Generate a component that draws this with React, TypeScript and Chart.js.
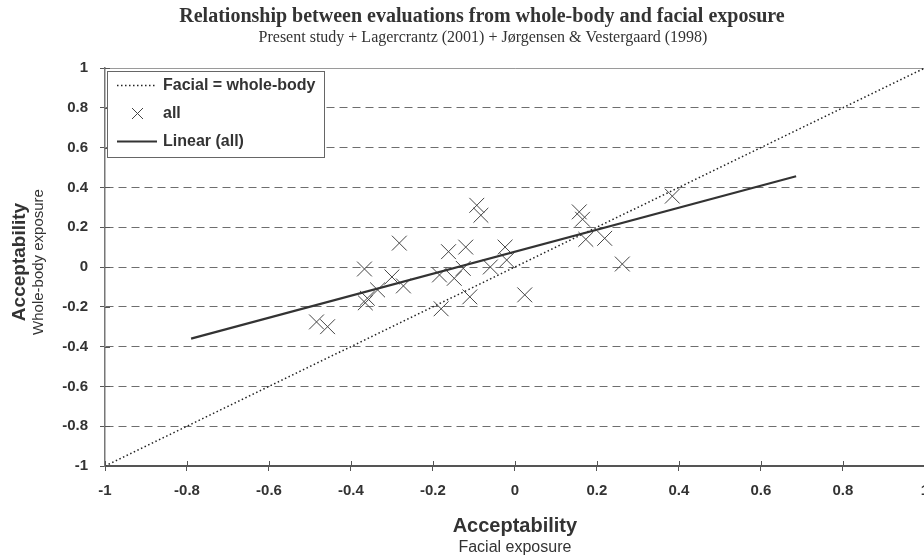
import React, { useEffect, useRef } from "react";
import { Chart, registerables } from "chart.js";

Chart.register(...registerables);

// Acceptability votes: facial exposure (x) vs whole-body exposure (y)
const facialX = [
  -0.484, -0.457, -0.367, -0.365, -0.36, -0.335, -0.3, -0.282, -0.272, -0.184,
  -0.18, -0.162, -0.148, -0.126, -0.12, -0.11, -0.093, -0.083, -0.06, -0.024,
  -0.02, 0.024, 0.157, 0.165, 0.173, 0.219, 0.262, 0.384,
];
const wholeBodyY = [
  -0.276, -0.3, -0.01, -0.18, -0.157, -0.115, -0.05, 0.12, -0.095, -0.04,
  -0.21, 0.077, -0.057, -0.007, 0.1, -0.15, 0.31, 0.26, 0, 0.1,
  0.035, -0.14, 0.277, 0.24, 0.139, 0.144, 0.015, 0.356,
];

// Identity line and linear fit endpoints
const identityX = [-1, 1];
const identityY = [-1, 1];
const trendX = [-0.79, 0.686];
const trendY = [-0.36, 0.456];

const tickValues = [-1, -0.8, -0.6, -0.4, -0.2, 0, 0.2, 0.4, 0.6, 0.8, 1];

const seriesLabels = ["Facial = whole-body", "all", "Linear (all)"];
const titleText = "Relationship between evaluations from whole-body and facial exposure";
const subtitleText = "Present study + Lagercrantz (2001) + Jørgensen & Vestergaard (1998)";
const axisTitle = "Acceptability";
const xSubTitle = "Facial exposure";
const ySubTitle = "Whole-body exposure";

const SANS = "'Liberation Sans', Arial, sans-serif";
const SERIF = "'Liberation Serif', 'Times New Roman', serif";
const TEXT = "#333333";

const toPoints = (xs: number[], ys: number[]) => xs.map((x, i) => ({ x, y: ys[i] }));

const fmt = (v: number) => {
  const r = Math.round(v * 10) / 10;
  return r === 0 ? "0" : String(r);
};

const decorPlugin = {
  id: "decor",
  afterDraw(chart: any) {
    const { ctx, chartArea, scales } = chart;
    const xs = scales.x;
    const ys = scales.y;
    ctx.save();

    // inner halves of the tick marks
    ctx.strokeStyle = "#555";
    ctx.lineWidth = 1;
    ctx.beginPath();
    tickValues.forEach((v) => {
      const px = Math.round(xs.getPixelForValue(v)) + 0.5;
      ctx.moveTo(px, chartArea.bottom);
      ctx.lineTo(px, chartArea.bottom - 5);
      const py = Math.round(ys.getPixelForValue(v)) + 0.5;
      ctx.moveTo(chartArea.left, py);
      ctx.lineTo(chartArea.left + 5, py);
    });
    ctx.stroke();

    // titles
    ctx.fillStyle = TEXT;
    ctx.textAlign = "center";
    ctx.textBaseline = "middle";
    ctx.font = `bold 20px ${SERIF}`;
    ctx.fillText(titleText, 482, 17);
    ctx.font = `16px ${SERIF}`;
    ctx.fillText(subtitleText, 483, 38);

    // x axis title
    const cx = (chartArea.left + chartArea.right) / 2;
    ctx.font = `bold 20px ${SANS}`;
    ctx.fillText(axisTitle, cx, 526);
    ctx.font = `16px ${SANS}`;
    ctx.fillText(xSubTitle, cx, 548);

    // y axis title
    const cy = (chartArea.top + chartArea.bottom) / 2 - 5;
    ctx.save();
    ctx.translate(20, cy);
    ctx.rotate(-Math.PI / 2);
    ctx.font = `bold 19px ${SANS}`;
    ctx.fillText(axisTitle, 0, 0);
    ctx.restore();
    ctx.save();
    ctx.translate(39, cy);
    ctx.rotate(-Math.PI / 2);
    ctx.font = `15px ${SANS}`;
    ctx.fillText(ySubTitle, 0, 0);
    ctx.restore();

    // legend box
    const bx = 107, by = 71, bw = 217, bh = 86;
    ctx.fillStyle = "#ffffff";
    ctx.fillRect(bx, by, bw, bh);
    ctx.strokeStyle = "#666";
    ctx.lineWidth = 1;
    ctx.strokeRect(bx + 0.5, by + 0.5, bw, bh);

    const rows = [85, 113, 141];
    const ds = chart.data.datasets;
    ctx.textAlign = "left";
    ctx.font = `bold 16px ${SANS}`;
    rows.forEach((ry, i) => {
      const d = ds[i];
      ctx.save();
      ctx.strokeStyle = d.borderColor;
      if (d.showLine) {
        ctx.lineWidth = d.borderWidth;
        ctx.setLineDash(d.borderDash || []);
        ctx.beginPath();
        ctx.moveTo(117, ry + 0.5);
        ctx.lineTo(157, ry + 0.5);
        ctx.stroke();
      } else {
        ctx.lineWidth = 1;
        ctx.beginPath();
        ctx.moveTo(132, ry - 5);
        ctx.lineTo(143, ry + 6);
        ctx.moveTo(132, ry + 6);
        ctx.lineTo(143, ry - 5);
        ctx.stroke();
      }
      ctx.restore();
      ctx.fillStyle = TEXT;
      ctx.fillText(d.label, 163, ry + 1);
    });

    ctx.restore();
  },
};

export default function App() {
  const canvasRef = useRef<HTMLCanvasElement | null>(null);

  useEffect(() => {
    if (!canvasRef.current) return;
    const chart = new Chart(canvasRef.current, {
      type: "scatter",
      plugins: [decorPlugin],
      data: {
        datasets: [
          {
            label: seriesLabels[0],
            data: toPoints(identityX, identityY),
            showLine: true,
            borderColor: "#222",
            borderWidth: 1.5,
            borderDash: [1.5, 2.5],
            pointRadius: 0,
            order: 3,
          },
          {
            label: seriesLabels[1],
            data: toPoints(facialX, wholeBodyY),
            showLine: false,
            pointStyle: "crossRot",
            pointRadius: 10.5,
            borderColor: "#444",
            borderWidth: 1,
            backgroundColor: "#444",
            order: 2,
          },
          {
            label: seriesLabels[2],
            data: toPoints(trendX, trendY),
            showLine: true,
            borderColor: "#333",
            borderWidth: 2.2,
            pointRadius: 0,
            order: 1,
          },
        ],
      },
      options: {
        responsive: false,
        animation: false,
        layout: { padding: { left: 0, right: 14, top: 68, bottom: 0 } },
        plugins: {
          legend: { display: false },
          title: { display: false },
          tooltip: { enabled: false },
        },
        scales: {
          x: {
            type: "linear",
            min: -1,
            max: 1,
            afterFit: (s: any) => {
              s.height = 94;
            },
            afterBuildTicks: (s: any) => {
              s.ticks = tickValues.map((value) => ({ value }));
            },
            ticks: {
              padding: 11,
              color: TEXT,
              font: { family: SANS, size: 15, weight: "bold" },
              callback: (v: any) => fmt(Number(v)),
              maxRotation: 0,
            },
            grid: {
              drawOnChartArea: false,
              drawTicks: true,
              tickLength: 5,
              tickColor: "#555",
            },
            border: { display: true, color: "#555", width: 2 },
          },
          y: {
            type: "linear",
            min: -1,
            max: 1,
            afterFit: (s: any) => {
              s.width = 105;
            },
            afterBuildTicks: (s: any) => {
              s.ticks = tickValues.map((value) => ({ value }));
            },
            ticks: {
              padding: 12,
              color: TEXT,
              font: { family: SANS, size: 15, weight: "bold" },
              callback: (v: any) => fmt(Number(v)),
            },
            grid: {
              drawOnChartArea: true,
              drawTicks: true,
              tickLength: 5,
              tickColor: "#555",
              color: (c: any) => (c.tick && c.tick.value === 1 ? "#9a9a9a" : "#6e6e6e"),
              lineWidth: 1,
            },
            border: {
              display: true,
              color: "#777",
              width: 1.5,
              dash: (c: any) => (c.tick && c.tick.value === 1 ? [] : [8, 5]),
            },
          },
        },
      },
    } as any);
    return () => chart.destroy();
  }, []);

  return (
    <div
      style={{
        position: "absolute",
        left: 0,
        top: 0,
        width: 924,
        height: 560,
        overflow: "hidden",
        background: "#fff",
      }}
    >
      <canvas ref={canvasRef} width={940} height={560} style={{ display: "block" }} />
    </div>
  );
}
